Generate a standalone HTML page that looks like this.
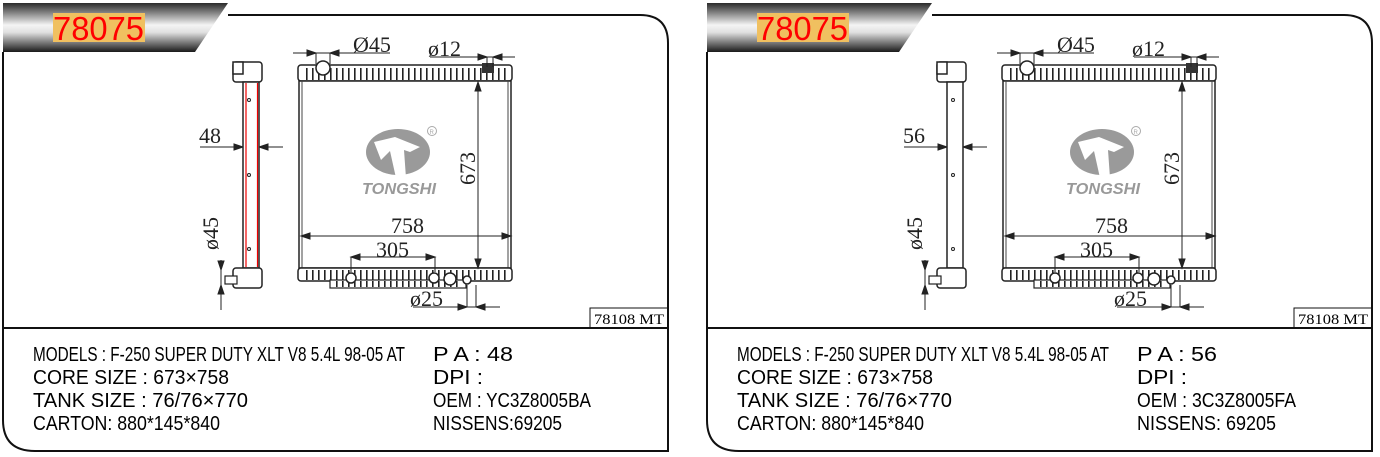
<!DOCTYPE html>
<html><head><meta charset="utf-8"><style>
html,body{margin:0;padding:0;background:#fff;}
svg{display:block}
.d{font-family:"Liberation Serif",serif;font-size:22px;fill:#222;}
.t{font-family:"Liberation Sans","DejaVu Sans",sans-serif;font-size:20px;fill:#000;}
</style></head><body>
<svg width="1380" height="457" viewBox="0 0 1380 457" xmlns="http://www.w3.org/2000/svg">
<defs>
<linearGradient id="hg" x1="0" y1="0" x2="0" y2="1">
<stop offset="0" stop-color="#2a2a2a"/><stop offset="0.45" stop-color="#f4f4f4"/><stop offset="0.6" stop-color="#e0e0e0"/><stop offset="1" stop-color="#1a1a1a"/>
</linearGradient>
<pattern id="hatch" x="0" y="0" width="6" height="20" patternUnits="userSpaceOnUse">
<rect x="0" y="0" width="1.6" height="20" fill="#222"/>
</pattern>
<g id="panel">
<path d="M228,15 H640 Q668,15 668,43 V451 H35 Q3,451 3,420 V52" fill="none" stroke="#111" stroke-width="2"/>
<line x1="3" y1="328" x2="668" y2="328" stroke="#111" stroke-width="2"/>
<rect x="590" y="308" width="78" height="20" fill="none" stroke="#111" stroke-width="1"/>
<polygon points="3,3 228,3 195,52 3,52" fill="url(#hg)"/>
<rect x="53" y="13" width="92" height="29" fill="#f0c060"/>
<rect x="298" y="65" width="214" height="16" rx="3" fill="#fff" stroke="#222" stroke-width="1.5"/>
<rect x="304" y="68" width="202" height="12" fill="url(#hatch)"/>
<rect x="299" y="81" width="212" height="187" fill="#fff" stroke="#222" stroke-width="1.5"/>
<line x1="302" y1="81" x2="302" y2="268" stroke="#444"/>
<line x1="508" y1="81" x2="508" y2="268" stroke="#444"/>
<rect x="298" y="268" width="214" height="13" rx="3" fill="#fff" stroke="#222" stroke-width="1.5"/>
<rect x="304" y="270" width="202" height="10" fill="url(#hatch)"/>
<rect x="330" y="280" width="136" height="8" fill="#fff" stroke="#222" stroke-width="1.2"/>
<rect x="334" y="281" width="128" height="6" fill="url(#hatch)"/>
<circle cx="323" cy="68" r="7" fill="#fff" stroke="#222" stroke-width="1.5"/>
<rect x="482" y="63" width="12" height="10" fill="#333"/>
<circle cx="351" cy="278" r="5" fill="#fff" stroke="#222" stroke-width="1.5"/>
<circle cx="434" cy="278" r="5" fill="#fff" stroke="#222" stroke-width="1.5"/>
<circle cx="450" cy="279" r="6" fill="#fff" stroke="#222" stroke-width="1.5"/>
<circle cx="467" cy="280" r="4" fill="#fff" stroke="#222" stroke-width="1.5"/>
<g stroke="#222" stroke-width="1" fill="#222">
<line x1="293" y1="53" x2="390" y2="53"/><line x1="316" y1="53" x2="316" y2="64"/><line x1="330" y1="53" x2="330" y2="64"/>
<line x1="430" y1="57" x2="515" y2="57"/><line x1="487" y1="57" x2="487" y2="67"/><line x1="493" y1="57" x2="493" y2="67"/>
<line x1="478" y1="82" x2="478" y2="268"/>
<line x1="301" y1="236" x2="511" y2="236"/>
<line x1="351" y1="257" x2="435" y2="257"/><line x1="351" y1="257" x2="351" y2="272"/><line x1="435" y1="257" x2="435" y2="272"/>
<line x1="413" y1="307" x2="500" y2="307"/><line x1="467" y1="285" x2="467" y2="307"/><line x1="476" y1="285" x2="476" y2="307"/>
<line x1="200" y1="147" x2="283" y2="147"/>
<line x1="221" y1="260" x2="221" y2="310"/>
<polygon points="301,236 310,233 310,239"/><polygon points="511,236 502,233 502,239"/>
<polygon points="478,82 475,91 481,91"/><polygon points="478,268 475,259 481,259"/>
<polygon points="351,257 360,254 360,260"/><polygon points="435,257 426,254 426,260"/>
<polygon points="316,53 307,50 307,56"/><polygon points="330,53 339,50 339,56"/>
<polygon points="487,57 478,54 478,60"/><polygon points="493,57 502,54 502,60"/>
<polygon points="467,307 458,304 458,310"/><polygon points="476,307 485,304 485,310"/>
<polygon points="243,147 234,144 234,150"/><polygon points="259,147 268,144 268,150"/>
<polygon points="221,270 218,261 224,261"/><polygon points="221,285 218,294 224,294"/>
</g>
<rect x="233" y="62" width="29" height="20" rx="3" fill="#fff" stroke="#222" stroke-width="1.5"/>
<rect x="233" y="62" width="10" height="12" fill="#fff" stroke="#222" stroke-width="1.5"/>
<rect x="243" y="82" width="16" height="186" fill="#fff" stroke="#222" stroke-width="1.5"/>
<circle cx="249" cy="100" r="1.5" fill="none" stroke="#222"/><circle cx="249" cy="175" r="1.5" fill="none" stroke="#222"/><circle cx="249" cy="249" r="1.5" fill="none" stroke="#222"/>
<rect x="233" y="268" width="29" height="20" rx="3" fill="#fff" stroke="#222" stroke-width="1.5"/>
<rect x="225" y="276" width="12" height="8" fill="#fff" stroke="#222" stroke-width="1.2"/>
<ellipse cx="398" cy="152" rx="32" ry="23" fill="#9a9a9a"/>
<polygon points="374,142 395,137 420,147 410,152 404,150 406,178 396,178 390,151 381,160" fill="#fff"/>
<circle cx="432" cy="131" r="4.5" fill="none" stroke="#aaa"/>
<text x="429.5" y="134" font-family="Liberation Sans,sans-serif" font-size="6" fill="#aaa">R</text>
<text x="362" y="194" font-family="Liberation Sans,sans-serif" font-size="16" font-weight="bold" font-style="italic" fill="#999" textLength="74" lengthAdjust="spacingAndGlyphs">TONGSHI</text>
<text class="d" x="353" y="52">Ø45</text>
<text class="d" x="428" y="56">ø12</text>
<text class="d" x="391" y="233">758</text>
<text class="d" x="376" y="257">305</text>
<text class="d" x="410" y="306">ø25</text>
<text class="d" transform="translate(475,185) rotate(-90)">673</text>
<text class="d" transform="translate(218,250) rotate(-90)">ø45</text>
<text style="font-family:'Liberation Serif',serif;font-size:15px" x="594" y="324" textLength="70" lengthAdjust="spacingAndGlyphs">78108 MT</text>
<text x="53" y="40" font-family="Liberation Sans,sans-serif" font-size="33" fill="#f00" textLength="91" lengthAdjust="spacingAndGlyphs">78075</text>
<text class="t" x="33" y="361" textLength="372" lengthAdjust="spacingAndGlyphs">MODELS : F-250 SUPER DUTY XLT V8 5.4L 98-05 AT</text>
<text class="t" x="33" y="384" textLength="196" lengthAdjust="spacingAndGlyphs">CORE SIZE : 673×758</text>
<text class="t" x="33" y="407" textLength="215" lengthAdjust="spacingAndGlyphs">TANK SIZE : 76/76×770</text>
<text class="t" x="33" y="430" textLength="187" lengthAdjust="spacingAndGlyphs">CARTON: 880*145*840</text>
<text class="t" x="433" y="384" textLength="50" lengthAdjust="spacingAndGlyphs">DPI :</text>
</g>
</defs>
<use href="#panel"/>
<line x1="246" y1="83" x2="246" y2="267" stroke="#e00" stroke-width="1.2"/><line x1="257.5" y1="83" x2="257.5" y2="267" stroke="#e00" stroke-width="1.2"/>
<text class="d" x="199" y="143">48</text>
<text class="t" x="433" y="361" textLength="80" lengthAdjust="spacingAndGlyphs">P A : 48</text>
<text class="t" x="433" y="407" textLength="158" lengthAdjust="spacingAndGlyphs">OEM : YC3Z8005BA</text>
<text class="t" x="433" y="430" textLength="129" lengthAdjust="spacingAndGlyphs">NISSENS:69205</text>
<g transform="translate(704,0)">
<use href="#panel"/>
<text class="d" x="199" y="143">56</text>
<text class="t" x="433" y="361" textLength="80" lengthAdjust="spacingAndGlyphs">P A : 56</text>
<text class="t" x="433" y="407" textLength="159" lengthAdjust="spacingAndGlyphs">OEM : 3C3Z8005FA</text>
<text class="t" x="433" y="430" textLength="139" lengthAdjust="spacingAndGlyphs">NISSENS: 69205</text>
</g>
</svg>
</body></html>
